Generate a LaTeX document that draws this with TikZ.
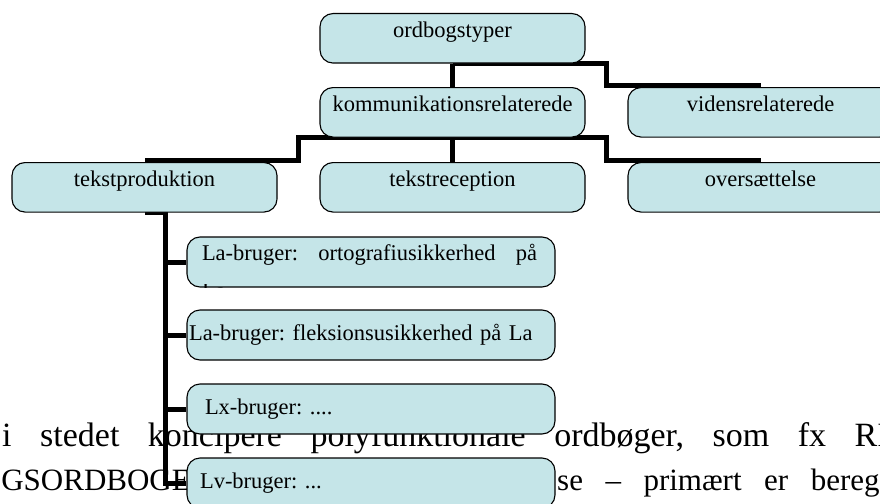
\documentclass[tikz,border=0pt]{standalone}
\usepackage{fontspec}
\setmainfont{Liberation Serif}
\usetikzlibrary{backgrounds}
\definecolor{boksfarve}{RGB}{197,229,232}
\frenchspacing
\begin{document}
\begin{tikzpicture}[x=1pt, y=-1pt]
\tikzstyle{boks}=[rectangle,draw,rounded corners=13pt,fill=boksfarve,line width=1.1pt,minimum width=265pt,inner sep=0pt,text height=24pt,text depth=25.5pt,font=\fontsize{22.5}{27}\selectfont]
\tikzstyle{bruger}=[rectangle,draw,rounded corners=13pt,fill=boksfarve,line width=1.1pt,minimum width=368pt,minimum height=50pt,inner xsep=2pt,inner ysep=0pt,text width=364pt,align=left,text height=16pt,text depth=6pt,font=\fontsize{22.5}{27}\selectfont]
\tikzstyle{forb}=[line width=5pt]
\tikzstyle{broed}=[anchor=base west,inner sep=0pt,font=\fontsize{34}{40}\selectfont]
\useasboundingbox (0,0) rectangle (880,503);
\clip (0,0) rectangle (880,503);
\node[boks,anchor=north] (typer) at (452.5,13) {ordbogstyper};
\node[boks,anchor=north] (komm)  at (452.5,87) {kommunikationsrelaterede};
\node[boks,anchor=north] (viden) at (760.5,87) {vidensrelaterede};
\node[boks,anchor=north] (prod)  at (144.5,162) {tekstproduktion};
\node[boks,anchor=north] (recep) at (452.5,162) {tekstreception};
\node[boks,anchor=north] (overs) at (760.5,162) {oversættelse};
\node[bruger,text depth=20pt] (b1) at (371,262) {\hspace*{13pt}\makebox[335pt][l]{La-bruger:\hfill ortografiusikkerhed\hfill på}};
\node[bruger] (b2) at (371,335) {La-bruger: fleksionsusikkerhed på La};
\node[bruger] (b3) at (371,409) {\hspace*{16pt}Lx-bruger: ....};
\node[bruger] (b4) at (371,483) {\hspace*{11pt}Lv-bruger: ...};
\begin{scope}
\clip (b1.south west) rectangle ([yshift=3.5pt]b1.south east);
\node[anchor=base west,inner sep=0pt,font=\fontsize{22.5}{27}\selectfont] (b1rest) at (202,298) {La};
\end{scope}
\coordinate (stamme) at (165,212);
\begin{pgfonlayer}{background}
\node[broed] (linje1) at (2,446) {\spaceskip=28.5pt i stedet koncipere polyfunktionale ordbøger, som fx RI};
\node[broed,anchor=base east,font=\fontsize{31}{40}\selectfont] (linje2a) at (191,490) {GSORDBOGE};
\node[broed,font=\fontsize{31}{40}\selectfont] (linje2b) at (557,490) {\spaceskip=22.5pt se – primært er bereg};
\draw[forb] (typer.south) -- (komm.north);
\draw[forb] (typer.south) -| (606,74) |- ([yshift=2pt]viden.north);
\draw[forb] (komm.south) -- (recep.north);
\draw[forb] (komm.south) -| (298,150) |- ([yshift=2pt]prod.north);
\draw[forb] (komm.south) -| (606,150) |- ([yshift=2pt]overs.north);
\draw[forb] (prod.south) -| (stamme) |- (b4.west);
\foreach \b in {b1,b2,b3}
  \draw[forb] (stamme |- \b.west) -- (\b.west);
\end{pgfonlayer}
\end{tikzpicture}
\end{document}
